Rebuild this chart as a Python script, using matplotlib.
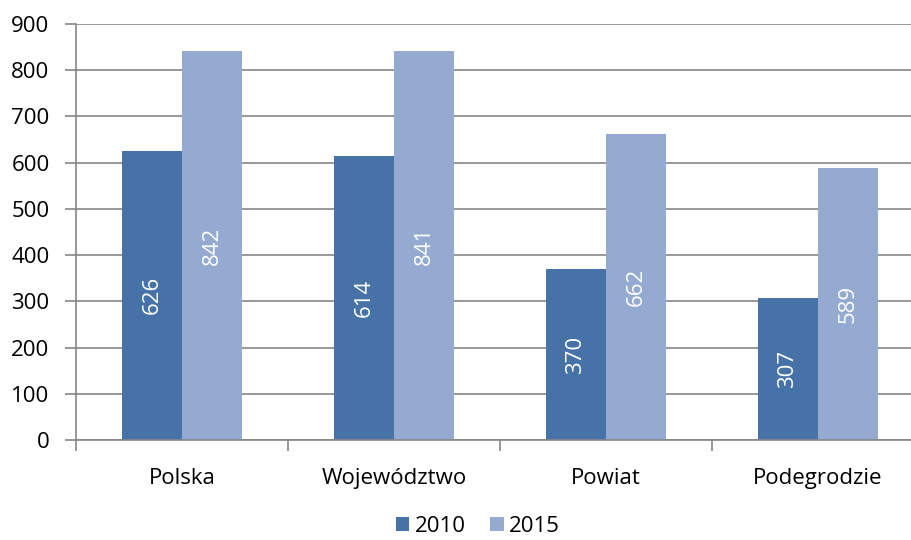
import matplotlib.pyplot as plt
import numpy as np

# Data
categories = ['Polska', 'Województwo', 'Powiat', 'Podegrodzie']
values_2010 = [626, 614, 370, 307]
values_2015 = [842, 841, 662, 589]
series_names = ['2010', '2015']

plt.rcParams['font.family'] = ['Open Sans', 'DejaVu Sans']

fig = plt.figure(figsize=(9.12, 5.4), dpi=100)
ax = fig.add_axes([76 / 912, 100 / 540, 848 / 912, 416 / 540])

x = np.arange(len(categories))
w = 0.285
c2010 = '#4672A8'
c2015 = '#95AAD1'
b1 = ax.bar(x - w / 2, values_2010, w, color=c2010, label=series_names[0], zorder=2)
b2 = ax.bar(x + w / 2, values_2015, w, color=c2015, label=series_names[1], zorder=2)

# Value labels, rotated, centred in the bars
for bars, vals in ((b1, values_2010), (b2, values_2015)):
    for rect, v in zip(bars, vals):
        ax.text(rect.get_x() + rect.get_width() / 2, v / 2, str(v),
                rotation=90, ha='center', va='center',
                color='white', fontsize=16, zorder=3)

ax.set_ylim(0, 900)
ax.set_yticks(range(0, 901, 100))
ax.set_xlim(-0.5, len(categories) - 0.5)
ax.yaxis.grid(True, color='#868686', linewidth=1.2, zorder=0)
ax.set_axisbelow(True)

# Category labels between tick marks at the boundaries
ax.set_xticks(np.arange(-0.5, len(categories), 1.0))
ax.set_xticklabels([])
ax.set_xticks(x, minor=True)
ax.set_xticklabels(categories, minor=True)
ax.tick_params(axis='x', which='major', length=8, color='#868686', width=1.2)
ax.tick_params(axis='x', which='minor', length=0, pad=20, labelsize=16)
ax.tick_params(axis='y', length=8, color='#868686', width=1.2, labelsize=16, pad=11)

for s in ('top', 'right'):
    ax.spines[s].set_visible(False)
for s in ('left', 'bottom'):
    ax.spines[s].set_color('#868686')
    ax.spines[s].set_linewidth(1.2)

fig.legend(handles=[b1, b2], labels=series_names, loc='center',
           bbox_to_anchor=(0.524, 14 / 540), ncol=2, frameon=False,
           fontsize=16, handlelength=0.6, handleheight=0.6,
           handletextpad=0.25, columnspacing=1.1)

fig.savefig('out.png', dpi=100)
